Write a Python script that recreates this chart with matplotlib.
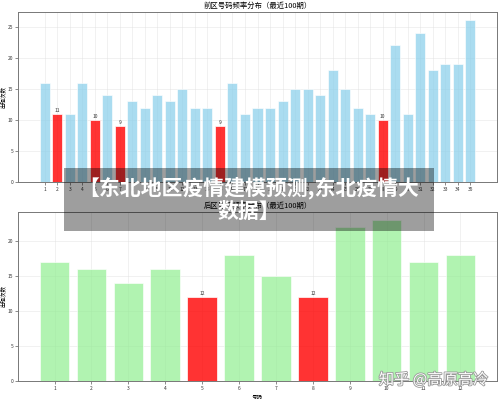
import matplotlib
matplotlib.use("Agg")
import matplotlib.pyplot as plt
import matplotlib.patheffects as pe
from matplotlib.patches import Rectangle

plt.rcParams['font.family'] = ['Noto Sans CJK SC', 'DejaVu Sans']

# 前区 data
front_nums = list(range(1, 36))
front_counts = [16, 11, 11, 16, 10, 14, 9, 13, 12, 14, 13, 15, 12, 12, 9, 16, 11, 12,
                12, 13, 15, 15, 14, 18, 15, 12, 11, 10, 22, 11, 24, 18, 19, 19, 26]
front_red = [2, 5, 7, 15, 28]

# 后区 data
back_nums = list(range(1, 13))
back_counts = [17, 16, 14, 16, 12, 18, 15, 12, 22, 23, 17, 18]
back_red = [5, 8]

fig = plt.figure(figsize=(5, 3.99), dpi=100)
ax1 = fig.add_axes([0.036, 0.543, 0.958, 0.426])
ax2 = fig.add_axes([0.036, 0.045, 0.958, 0.424])


def draw(ax, nums, counts, reds, base_color, title, xlabel=None):
    colors = ['red' if n in reds else base_color for n in nums]
    alphas = [0.8 if n in reds else 0.7 for n in nums]
    for n, c, col, a in zip(nums, counts, colors, alphas):
        ax.bar(n, c, width=0.8, color=col, alpha=a, edgecolor='white', linewidth=0.6, zorder=2)
        if n in reds:
            ax.text(n, c + 0.2, str(c), ha='center', va='bottom', fontsize=3.5, color='#333333')
    ax.set_ylim(0, max(counts) * 1.05)
    ax.set_xticks(nums)
    ax.set_xticklabels([str(n) for n in nums])
    ax.tick_params(labelsize=3.5, length=2, width=0.4, pad=1.5, colors='#333333')
    ax.grid(True, color='#dddddd', linewidth=0.4, alpha=0.7, zorder=0)
    for s in ax.spines.values():
        s.set_color('#777777')
        s.set_linewidth(0.7)
    ax.set_title(title, fontsize=5.3, pad=3)
    ax.set_ylabel('出现次数', fontsize=4, labelpad=1)
    if xlabel:
        ax.set_xlabel(xlabel, fontsize=4, labelpad=2)


draw(ax1, front_nums, front_counts, front_red, 'skyblue', '前区号码频率分布（最近100期）')
draw(ax2, back_nums, back_counts, back_red, 'lightgreen', '后区号码频率分布（最近100期）', '号码')

# overlay banner
fig.patches.append(Rectangle((0.128, 0.421), 0.74, 0.158, transform=fig.transFigure,
                             facecolor='black', alpha=0.38, zorder=10))
fig.text(0.497, 0.50, '【东北地区疫情建模预测,东北疫情大\n数据】', ha='center', va='center',
         fontsize=15, fontweight='bold', color='white', linespacing=1.1,
         multialignment='center', zorder=11)

# watermark
fig.text(0.867, 0.048, '知乎 @高原高冷', ha='center', va='center', fontsize=11,
         color='white', zorder=11,
         path_effects=[pe.withStroke(linewidth=1.2, foreground='#999999')])

plt.savefig('out.png', dpi=100)
